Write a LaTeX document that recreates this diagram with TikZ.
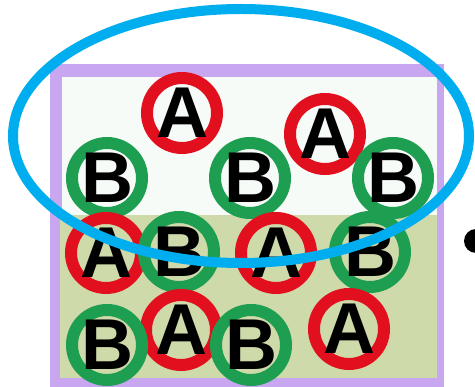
\documentclass[tikz,border=0pt]{standalone}
\usepackage{fontspec}
\usetikzlibrary{shapes.geometric}
\setmainfont{Liberation Sans}
\definecolor{frame}{RGB}{200,166,240}
\definecolor{lowbg}{RGB}{206,218,170}
\definecolor{topbg}{RGB}{247,251,247}
\definecolor{ringred}{RGB}{226,16,30}
\definecolor{ringgreen}{RGB}{30,158,80}
\definecolor{ellblue}{RGB}{0,174,239}
\tikzset{
  ball/.style={circle, draw, line width=12pt, minimum size=70pt, inner sep=0pt,
    font=\fontsize{72}{72}\selectfont\bfseries, text=black},
  aball/.style={ball, draw=ringred},
  bball/.style={ball, draw=ringgreen},
}
\newcommand{\lt}[1]{\makebox[0pt]{#1}}
\begin{document}
\begin{tikzpicture}[x=1pt,y=-1pt]
\useasboundingbox (0,0) rectangle (475,387);
\clip (0,0) rectangle (475,387);
% frame
\fill[frame] (50,64) rectangle (444,387);
\fill[topbg] (62,77) rectangle (437,215);
\fill[lowbg] (60,215) rectangle (437,378);
% top row
\node[aball] (a1) at (182,113) {\lt{A}};
\node[aball] (a2) at (325,134) {\lt{A}};
\node[bball] (b1) at (107,178) {\lt{B}};
\node[bball] (b2) at (250,178) {\lt{B}};
\node[bball] (b3) at (393,178) {\lt{B}};
% lower rows
\node[aball] (a3) at (106,253) {\lt{A}};
\node[bball] (b4) at (179,252) {\lt{B}};
\node[aball] (a4) at (276,253) {\lt{A}};
\node[bball] (b5) at (370,252) {\lt{B}};
\node[aball] (a5) at (181,330) {\lt{A}};
\node[aball] (a6) at (349,329) {\lt{A}};
\node[bball] (b6) at (107,345) {\lt{B}};
\node[bball] (b7) at (251,345) {\lt{B}};
% ellipse and bullet
\node[draw=ellblue, line width=10pt, ellipse, minimum width=456pt, minimum height=254pt, inner sep=0pt] (ell) at (241,136) {};
\node[circle, fill=black, minimum size=24pt, inner sep=0pt] (dot) at (476,241) {};
\end{tikzpicture}
\end{document}
